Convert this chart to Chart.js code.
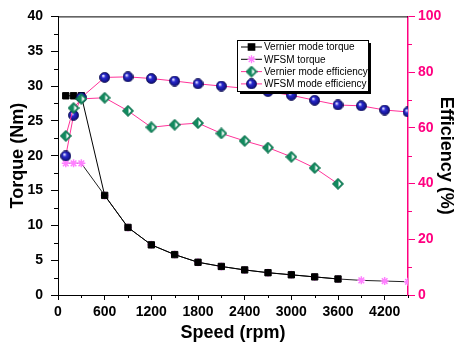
<!DOCTYPE html>
<html>
<head>
<meta charset="utf-8">
<script src="https://cdn.jsdelivr.net/npm/chart.js@4.4.0/dist/chart.umd.min.js"></script>
<style>
  html, body { margin: 0; padding: 0; background: #fff; }
  #wrap { width: 457px; height: 350px; }
</style>
</head>
<body>
<div id="wrap"><canvas id="torqueChart" width="457" height="350"></canvas></div>
<script>
// speeds (rpm)
const speedVernier = [100, 200, 300, 600, 900, 1200, 1500, 1800, 2100, 2400, 2700, 3000, 3300, 3600];
const speedWfsm = [100, 200, 300, 600, 900, 1200, 1500, 1800, 2100, 2400, 2700, 3000, 3300, 3600, 3900, 4200, 4500];

// torque (Nm)
const vernierTorque = [28.6, 28.6, 28.6, 14.3, 9.7, 7.2, 5.8, 4.7, 4.1, 3.6, 3.2, 2.9, 2.6, 2.3];
const wfsmTorque = [18.9, 18.9, 18.9, 14.3, 9.7, 7.2, 5.8, 4.7, 4.1, 3.6, 3.2, 2.9, 2.6, 2.3, 2.1, 2.0, 1.9];

// efficiency (%)
const vernierEff = [57.1, 67.1, 70.4, 70.8, 66.1, 60.2, 61.1, 61.7, 58.0, 55.3, 52.9, 49.6, 45.6, 39.9];
const wfsmEff = [49.9, 64.5, 70.9, 78.1, 78.3, 77.7, 76.8, 75.8, 75.0, 74.2, 73.0, 71.7, 69.9, 68.2, 67.9, 66.4, 65.7];

// tick labels
const xTicks = [0, 600, 1200, 1800, 2400, 3000, 3600, 4200];
const xMinor = [300, 900, 1500, 2100, 2700, 3300, 3900, 4500];
const yTicks = [0, 5, 10, 15, 20, 25, 30, 35, 40];
const yMinor = [2.5, 7.5, 12.5, 17.5, 22.5, 27.5, 32.5, 37.5];
const y1Ticks = [0, 20, 40, 60, 80, 100];
const y1Minor = [10, 30, 50, 70, 90];

const PINK = '#ff0080';
const LINE_PINK = '#ff3399';
const FONT = '"Liberation Sans", Arial, sans-serif';

function pts(xs, ys) { return xs.map((x, i) => ({ x: x, y: ys[i] })); }

// half-filled green diamond marker
function makeDiamond() {
  const c = document.createElement('canvas');
  c.width = 12; c.height = 12;
  const g = c.getContext('2d');
  g.beginPath();
  g.moveTo(6, 0.5); g.lineTo(11.5, 6); g.lineTo(6, 11.5); g.lineTo(0.5, 6); g.closePath();
  g.fillStyle = '#118a5e'; g.fill();
  g.beginPath();
  g.moveTo(6.5, 3); g.lineTo(9.3, 6); g.lineTo(6.5, 9); g.closePath();
  g.fillStyle = '#ffffff'; g.fill();
  g.beginPath();
  g.moveTo(6, 0.5); g.lineTo(11.5, 6); g.lineTo(6, 11.5); g.lineTo(0.5, 6); g.closePath();
  g.strokeStyle = '#0b6b48'; g.lineWidth = 1; g.stroke();
  return c;
}

// shaded blue ball marker
function makeBall() {
  const c = document.createElement('canvas');
  c.width = 11; c.height = 11;
  const g = c.getContext('2d');
  const grad = g.createRadialGradient(4, 3.8, 0.5, 5.5, 5.5, 5.5);
  grad.addColorStop(0, '#e8e8ff');
  grad.addColorStop(0.3, '#2a2ad0');
  grad.addColorStop(1, '#0a0a70');
  g.beginPath();
  g.arc(5.5, 5.5, 5, 0, Math.PI * 2);
  g.fillStyle = grad; g.fill();
  g.strokeStyle = '#05054a'; g.lineWidth = 0.8; g.stroke();
  return c;
}

const diamondImg = makeDiamond();
const ballImg = makeBall();

const legendItems = [
  { text: 'Vernier mode torque', line: '#000', style: 'rect', fill: '#000', stroke: '#000', r: 4.5 },
  { text: 'WFSM torque', line: '#000', style: 'star', fill: '#ff80ff', stroke: '#ff80ff', r: 4 },
  { text: 'Vernier mode efficiency', line: LINE_PINK, style: diamondImg },
  { text: 'WFSM mode efficiency', line: LINE_PINK, style: ballImg }
];

const framePlugin = {
  id: 'frame',
  afterDraw(chart) {
    const ctx = chart.ctx;
    const a = chart.chartArea;
    const sx = chart.scales.x, sy = chart.scales.y, sy1 = chart.scales.y1;
    ctx.save();
    // top border
    ctx.strokeStyle = '#000';
    ctx.lineWidth = 1;
    ctx.beginPath();
    ctx.moveTo(a.left, a.top + 0.5); ctx.lineTo(a.right, a.top + 0.5);
    ctx.stroke();
    // minor ticks
    ctx.beginPath();
    xMinor.forEach(v => { const p = Math.round(sx.getPixelForValue(v)) + 0.5; ctx.moveTo(p, a.bottom); ctx.lineTo(p, a.bottom + 3); });
    yMinor.forEach(v => { const p = Math.round(sy.getPixelForValue(v)) + 0.5; ctx.moveTo(a.left, p); ctx.lineTo(a.left - 4, p); });
    ctx.stroke();
    ctx.strokeStyle = PINK;
    ctx.beginPath();
    y1Minor.forEach(v => { const p = Math.round(sy1.getPixelForValue(v)) + 0.5; ctx.moveTo(a.right, p); ctx.lineTo(a.right + 4, p); });
    ctx.stroke();

    // legend box
    const bx = 237, by = 40, bw = 131, bh = 51;
    ctx.fillStyle = '#000';
    ctx.fillRect(bx + 3, by + 3, bw, bh);
    ctx.fillStyle = '#fff';
    ctx.fillRect(bx, by, bw, bh);
    ctx.strokeStyle = '#000';
    ctx.lineWidth = 1;
    ctx.strokeRect(bx + 0.5, by + 0.5, bw, bh);
    ctx.font = '10px ' + FONT;
    ctx.textBaseline = 'middle';
    legendItems.forEach((it, i) => {
      const cy = by + 7 + i * 12.3;
      ctx.strokeStyle = it.line;
      ctx.lineWidth = 1;
      ctx.beginPath();
      ctx.moveTo(bx + 4, cy); ctx.lineTo(bx + 25, cy);
      ctx.stroke();
      if (typeof it.style === 'string') {
        ctx.fillStyle = it.fill;
        ctx.strokeStyle = it.stroke;
        ctx.lineWidth = 1.3;
        Chart.helpers.drawPoint(ctx, { pointStyle: it.style, radius: it.r, rotation: 0, borderWidth: 1.3 }, bx + 14.5, cy);
      } else {
        ctx.drawImage(it.style, bx + 14.5 - it.style.width / 2, cy - it.style.height / 2);
      }
      ctx.fillStyle = '#000';
      ctx.fillText(it.text, bx + 27, cy + 0.5);
    });
    ctx.restore();
  }
};

new Chart(document.getElementById('torqueChart'), {
  type: 'scatter',
  data: {
    datasets: [
      {
        label: 'Vernier mode efficiency',
        data: pts(speedVernier, vernierEff),
        yAxisID: 'y1',
        showLine: true,
        borderColor: LINE_PINK,
        borderWidth: 1,
        pointStyle: diamondImg
      },
      {
        label: 'WFSM mode efficiency',
        data: pts(speedWfsm, wfsmEff),
        yAxisID: 'y1',
        showLine: true,
        borderColor: LINE_PINK,
        borderWidth: 1,
        pointStyle: ballImg
      },
      {
        label: 'Vernier mode torque',
        data: pts(speedVernier, vernierTorque),
        yAxisID: 'y',
        showLine: true,
        borderColor: '#000',
        borderWidth: 1,
        pointStyle: 'rect',
        pointRadius: 4.5,
        pointBackgroundColor: '#000',
        pointBorderColor: '#000'
      },
      {
        label: 'WFSM torque',
        data: pts(speedWfsm, wfsmTorque),
        yAxisID: 'y',
        showLine: true,
        borderColor: '#222',
        borderWidth: 1,
        pointStyle: 'star',
        pointRadius: 4,
        pointBorderWidth: 1.5,
        pointBackgroundColor: '#ff80ff',
        pointBorderColor: '#ff80ff'
      }
    ]
  },
  options: {
    responsive: false,
    animation: false,
    devicePixelRatio: 1,
    layout: { padding: { top: 15, left: 0, right: 0, bottom: 0 } },
    plugins: {
      legend: { display: false },
      tooltip: { enabled: false }
    },
    scales: {
      x: {
        type: 'linear',
        min: 0,
        max: 4500,
        afterFit: s => { s.height = 55; },
        afterBuildTicks: s => { s.ticks = xTicks.map(v => ({ value: v })); },
        grid: { drawOnChartArea: false, drawTicks: true, tickLength: 5, color: '#000' },
        border: { color: '#000', width: 1 },
        ticks: { color: '#000', padding: 4, maxRotation: 0, callback: v => String(v), font: { family: FONT, size: 14, weight: 'bold' } },
        title: { display: true, text: 'Speed (rpm)', color: '#000', padding: { top: 0, bottom: 6 }, font: { family: FONT, size: 18, weight: 'bold' } }
      },
      y: {
        type: 'linear',
        position: 'left',
        min: 0,
        max: 40,
        afterFit: s => { s.width = 58; },
        afterBuildTicks: s => { s.ticks = yTicks.map(v => ({ value: v })); },
        grid: { drawOnChartArea: false, drawTicks: true, tickLength: 7, color: '#000' },
        border: { color: '#000', width: 1 },
        ticks: { color: '#000', padding: 8, callback: v => String(v), font: { family: FONT, size: 14, weight: 'bold' } },
        title: { display: true, text: 'Torque (Nm)', color: '#000', padding: { top: 7, bottom: 0 }, font: { family: FONT, size: 18, weight: 'bold' } }
      },
      y1: {
        type: 'linear',
        position: 'right',
        min: 0,
        max: 100,
        afterFit: s => { s.width = 49; },
        afterBuildTicks: s => { s.ticks = y1Ticks.map(v => ({ value: v })); },
        grid: { drawOnChartArea: false, drawTicks: true, tickLength: 7, color: PINK },
        border: { color: PINK, width: 1.5 },
        ticks: { color: PINK, padding: 3, callback: v => String(v), font: { family: FONT, size: 14, weight: 'bold' } },
        title: { display: true, text: 'Efficiency (%)', color: '#000', padding: { top: 0, bottom: 0 }, font: { family: FONT, size: 18, weight: 'bold' } }
      }
    }
  },
  plugins: [framePlugin]
});
</script>
</body>
</html>
